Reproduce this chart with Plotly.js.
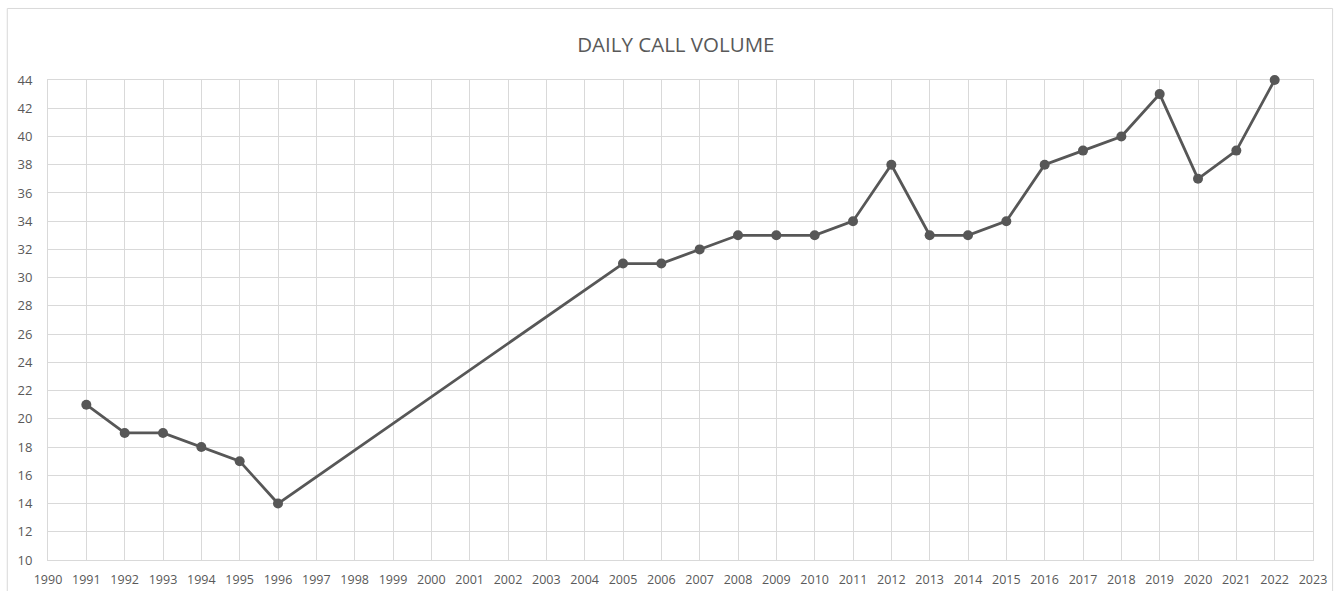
<!DOCTYPE html>
<html>
<head>
<meta charset="utf-8">
<script src="https://cdn.plot.ly/plotly-3.0.1.min.js"></script>
<style>html,body{margin:0;padding:0;background:#fff;}#chart{width:1341px;height:591px;}</style>
</head>
<body>
<div id="chart"></div>
<script>
const years = [1991,1992,1993,1994,1995,1996,2005,2006,2007,2008,2009,2010,2011,2012,2013,2014,2015,2016,2017,2018,2019,2020,2021,2022];
const calls = [21,19,19,18,17,14,31,31,32,33,33,33,34,38,33,33,34,38,39,40,43,37,39,44];
const xTicks = [];
for (let y = 1990; y <= 2023; y++) xTicks.push(y);
const yTicks = [10,12,14,16,18,20,22,24,26,28,30,32,34,36,38,40,42,44];

const trace = {
  x: years, y: calls, type: 'scatter', mode: 'lines+markers',
  line: {color: '#575757', width: 2.8},
  marker: {color: '#575757', size: 10},
  cliponaxis: false, hoverinfo: 'x+y'
};
const layout = {
  width: 1341, height: 591,
  margin: {l: 48, r: 28, t: 80, b: 31},
  paper_bgcolor: '#fff', plot_bgcolor: '#fff',
  showlegend: false,
  font: {family: 'Open Sans, Liberation Sans, sans-serif', color: '#595959', size: 12},
  title: {text: 'DAILY CALL VOLUME', x: 0.504, xanchor: 'center', y: 0.924, yanchor: 'middle',
          font: {size: 20.5, color: '#595959', family: 'Open Sans, sans-serif'}},
  xaxis: {range: [1990, 2023], tickvals: xTicks, ticktext: xTicks.map(String),
          showgrid: true, gridcolor: '#d9d9d9', gridwidth: 1, layer: 'below traces',
          showline: true, linecolor: '#d9d9d9', mirror: true, zeroline: false,
          ticks: '', ticklen: 0, ticklabelstandoff: 8, tickfont: {size: 12.5, color: '#595959'}, fixedrange: true},
  yaxis: {range: [10, 44], tickvals: yTicks, ticktext: yTicks.map(String),
          showgrid: true, gridcolor: '#d9d9d9', gridwidth: 1, layer: 'below traces',
          showline: true, linecolor: '#d9d9d9', mirror: true, zeroline: false,
          ticks: '', ticklen: 0, ticklabelstandoff: 12, tickfont: {size: 13, color: '#595959'}, fixedrange: true},
  shapes: [{type: 'rect', xref: 'paper', yref: 'paper',
            x0: -0.0322, x1: 1.0155, y0: -0.12, y1: 1.149,
            line: {color: '#d9d9d9', width: 1}, fillcolor: 'rgba(0,0,0,0)', layer: 'below'}]
};
Plotly.newPlot('chart', [trace], layout, {displayModeBar: false, staticPlot: true});
</script>
</body>
</html>
